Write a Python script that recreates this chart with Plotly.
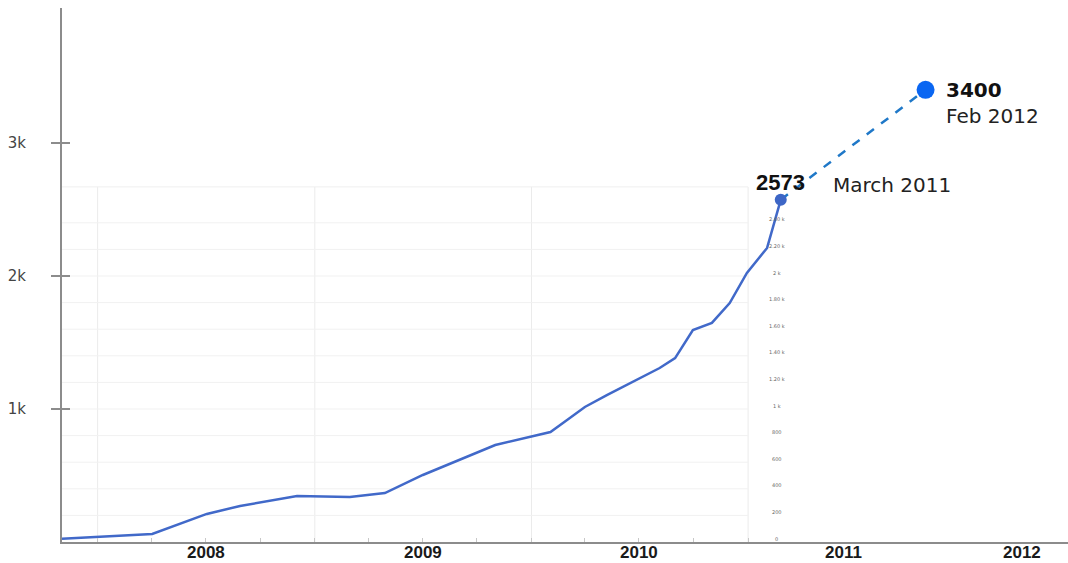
import plotly.graph_objects as go
import pandas as pd

# ---------------- data ----------------
dates = ["2007-11-02", "2008-01-01", "2008-04-02", "2008-07-03", "2008-08-28",
         "2008-12-02", "2009-03-01", "2009-04-29", "2009-07-02", "2009-11-01",
         "2009-12-30", "2010-02-02", "2010-03-02", "2010-04-01", "2010-05-08",
         "2010-07-02", "2010-08-05", "2010-08-31", "2010-09-30", "2010-11-01",
         "2010-12-01", "2010-12-30", "2011-02-02", "2011-02-25"]
values = [25, 38, 60, 211, 271,
          346, 338, 368, 504, 729,
          789, 827, 917, 1015, 1105,
          1233, 1308, 1383, 1594, 1647,
          1797, 2023, 2211, 2573]

proj_dates = ["2011-02-25", "2011-10-27"]
proj_values = [2573, 3400]
proj_value_labels = ["2573", "3400"]
proj_date_labels = ["March 2011", "Feb 2012"]

year_labels = ["2008", "2009", "2010", "2011", "2012"]
year_label_pos = ["2008-07-02", "2009-07-02", "2010-07-01", "2011-06-10", "2012-04-06"]
year_starts = ["2008-01-01", "2009-01-01", "2010-01-01", "2011-01-01"]

y_tickvals = [1000, 2000, 3000]
y_ticktext = ["1k", "2k", "3k"]

inner_vals = [0, 200, 400, 600, 800, 1000, 1200, 1400, 1600, 1800, 2000, 2200, 2400]
inner_text = ["0", "200", "400", "600", "800", "1 k", "1.20 k", "1.40 k",
              "1.60 k", "1.80 k", "2 k", "2.20 k", "2.40 k"]
inner_top = 2670

# ---------------- figure ----------------
X0, X1 = "2007-11-02", "2012-06-23"
Y1 = 4015
axis_grey = "#8c8c8c"

fig = go.Figure()

fig.add_trace(go.Scatter(x=dates, y=values, mode="lines",
                         line=dict(color="#4169c9", width=2.5),
                         hoverinfo="skip", showlegend=False))
fig.add_trace(go.Scatter(x=proj_dates, y=proj_values, mode="lines",
                         line=dict(color="#1f78c8", width=2.5, dash="dash"),
                         hoverinfo="skip", showlegend=False))
fig.add_trace(go.Scatter(x=[proj_dates[0]], y=[proj_values[0]], mode="markers",
                         marker=dict(color="#3d66c6", size=12),
                         hoverinfo="skip", showlegend=False))
fig.add_trace(go.Scatter(x=[proj_dates[1]], y=[proj_values[1]], mode="markers",
                         marker=dict(color="#0a66f2", size=18),
                         hoverinfo="skip", showlegend=False))

shapes = []
for d in year_starts:
    shapes.append(dict(type="line", xref="x", yref="y", x0=d, x1=d, y0=0, y1=inner_top,
                       line=dict(color="#ebebeb", width=1), layer="below"))
for v in inner_vals[1:]:
    shapes.append(dict(type="line", xref="x", yref="y", x0=X0, x1=year_starts[-1], y0=v, y1=v,
                       line=dict(color="#f1f1f1", width=1), layer="below"))
shapes.append(dict(type="line", xref="x", yref="y", x0=X0, x1=year_starts[-1],
                   y0=inner_top, y1=inner_top, line=dict(color="#efefef", width=1), layer="below"))

annotations = []
for v, t in zip(inner_vals, inner_text):
    annotations.append(dict(x="2011-02-18", y=v + 25, xref="x", yref="y", text=t,
                            showarrow=False, font=dict(size=5, color="#666666",
                                                       family="DejaVu Sans")))

# year labels under the x axis
for pos, lab in zip(year_label_pos, year_labels):
    annotations.append(dict(x=pos, y=0, xref="x", yref="paper", text="<b>" + lab + "</b>",
                            showarrow=False, xanchor="center", yanchor="middle", yshift=-10,
                            font=dict(family="Liberation Sans, Arial", size=17, color="#1a1a1a")))

annotations.append(dict(x=proj_dates[0], y=proj_values[0], text="<b>" + proj_value_labels[0] + "</b>",
                        showarrow=False, xanchor="center", yanchor="bottom", yshift=3,
                        font=dict(family="Liberation Sans, Arial", size=22, color="#111111")))
annotations.append(dict(x=proj_dates[0], y=proj_values[0], text=proj_date_labels[0],
                        showarrow=False, xanchor="left", yanchor="middle", xshift=50, yshift=15,
                        font=dict(family="DejaVu Sans, Verdana", size=20, color="#222222")))
annotations.append(dict(x=proj_dates[1], y=proj_values[1], text="<b>" + proj_value_labels[1] + "</b>",
                        showarrow=False, xanchor="left", yanchor="middle", xshift=18, yshift=0,
                        font=dict(family="DejaVu Sans, Verdana", size=20, color="#111111")))
annotations.append(dict(x=proj_dates[1], y=proj_values[1], text=proj_date_labels[1],
                        showarrow=False, xanchor="left", yanchor="middle", xshift=18, yshift=-26,
                        font=dict(family="DejaVu Sans, Verdana", size=20, color="#222222")))

quarters = [d.strftime("%Y-%m-%d") for d in pd.date_range("2008-01-01", "2011-01-01", freq="QS")]

fig.update_layout(
    width=1068, height=563,
    margin=dict(l=62, r=0, t=8, b=21),
    paper_bgcolor="white", plot_bgcolor="white",
    shapes=shapes, annotations=annotations,
    xaxis=dict(type="date", range=[X0, X1], showgrid=False, zeroline=False,
               showline=True, linecolor=axis_grey, linewidth=2,
               showticklabels=False, ticks="", automargin=False,
               minor=dict(tickmode="array", tickvals=quarters, ticks="inside",
                          ticklen=4, tickcolor="#c8c8c8", tickwidth=1, showgrid=False)),
    yaxis=dict(range=[0, Y1], showgrid=False, zeroline=False,
               showline=True, linecolor=axis_grey, linewidth=2,
               tickmode="array", tickvals=y_tickvals, ticktext=y_ticktext,
               ticks="outside", ticklen=9, tickwidth=2, tickcolor=axis_grey,
               ticklabelstandoff=22, automargin=False,
               tickfont=dict(family="DejaVu Sans, Verdana", size=15, color="#444444")),
    yaxis2=dict(range=[0, Y1], overlaying="y", side="left", showgrid=False,
                zeroline=False, showline=False, showticklabels=False,
                tickmode="array", tickvals=y_tickvals,
                ticks="inside", ticklen=8, tickwidth=2, tickcolor=axis_grey),
)

# invisible trace to activate the overlaying axis carrying the inner tick marks
fig.add_trace(go.Scatter(x=[X0], y=[0], yaxis="y2", mode="markers",
                         marker=dict(opacity=0), hoverinfo="skip", showlegend=False))

fig.write_html("out.html")
